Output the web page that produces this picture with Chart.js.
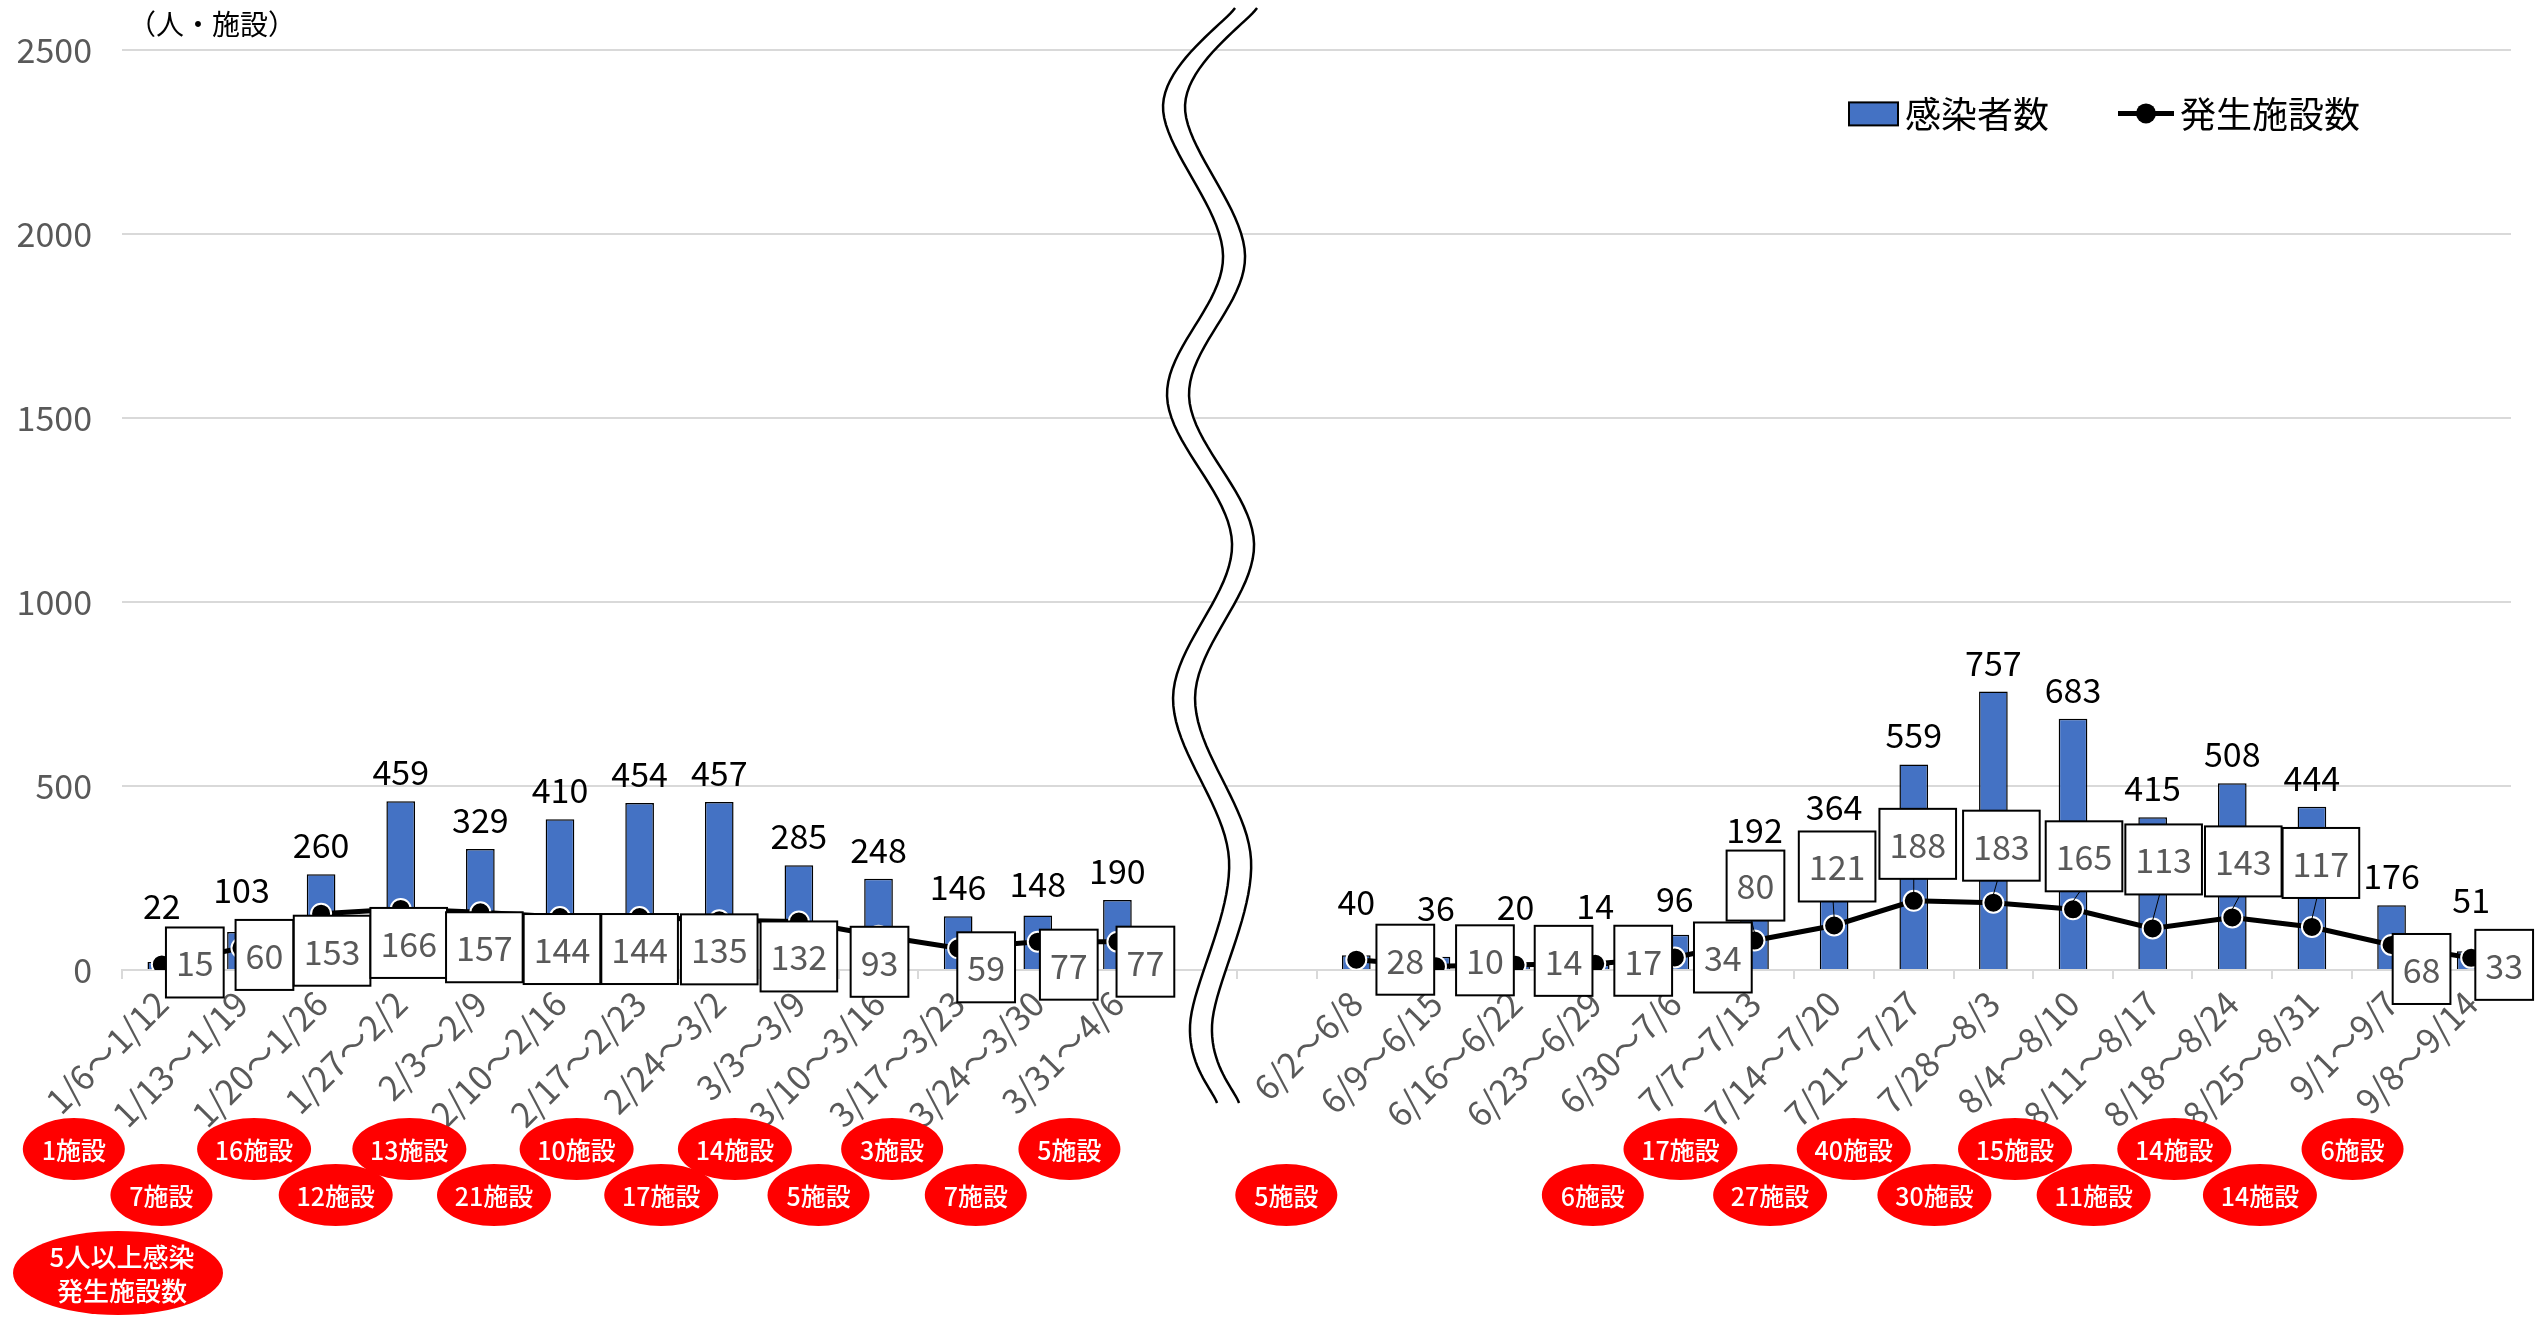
<!DOCTYPE html>
<html>
<head>
<meta charset="utf-8">
<script src="https://cdn.jsdelivr.net/npm/chart.js@4.4.1/dist/chart.umd.min.js"></script>
<style>
  html, body { margin: 0; padding: 0; background: #fff; }
  canvas { display: block; }
</style>
</head>
<body>
<canvas id="weeklyChart" width="2543" height="1318"></canvas>
<script>
// weekly categories (two blank slots where the axis is broken)
const weekLabels = [
  '1/6～1/12', '1/13～1/19', '1/20～1/26', '1/27～2/2', '2/3～2/9', '2/10～2/16',
  '2/17～2/23', '2/24～3/2', '3/3～3/9', '3/10～3/16', '3/17～3/23', '3/24～3/30', '3/31～4/6',
  '', '',
  '6/2～6/8', '6/9～6/15', '6/16～6/22', '6/23～6/29', '6/30～7/6', '7/7～7/13', '7/14～7/20',
  '7/21～7/27', '7/28～8/3', '8/4～8/10', '8/11～8/17', '8/18～8/24', '8/25～8/31', '9/1～9/7', '9/8～9/14'
];

// 感染者数
const infected = [22, 103, 260, 459, 329, 410, 454, 457, 285, 248, 146, 148, 190,
  null, null,
  40, 36, 20, 14, 96, 192, 364, 559, 757, 683, 415, 508, 444, 176, 51];

// 発生施設数
const facilities = [15, 60, 153, 166, 157, 144, 144, 135, 132, 93, 59, 77, 77,
  null, null,
  28, 10, 14, 17, 34, 80, 121, 188, 183, 165, 113, 143, 117, 68, 33];

// 5人以上感染発生施設数
const bigFacilities = [1, 7, 16, 12, 13, 21, 10, 17, 14, 5, 3, 7, 5,
  null, null,
  5, null, null, null, 6, 17, 27, 40, 30, 15, 11, 14, 14, 6, null];

const yMax = 2500;
const yStep = 500;

// where each boxed facility label sits, relative to its point
const boxDx = [33, 23, 11, 8, 4, 2, 0, 0, 0, 1, 28, 31, 28, 0, 0,
  49, 49, 48, 48, 48, 1, 3, 4, 8, 11, 11, 11, 9, 30, 33];
const boxDy = [-2, 7, 37, 34, 35, 32, 32, 29, 35, 26, 19, 23, 20, 0, 0,
  0, -6, -4, -3, 0, -55, -59, -57, -57, -53, -69, -56, -64, 24, 7];
// red bubbles under the axis, shifted left of the category
const bubbleDx = [-88, -80, -67, -65, -71, -66, -63, -58, -64, -60, -66, -62, -48, 0, 0,
  -70, 0, 0, 0, -82, -74, -64, -60, -59, -58, -59, -58, -52, -39, 0];

const FONT = "'Noto Sans CJK JP', 'Noto Sans', sans-serif";

// catmull-rom sampling for the wavy break mark
function sampleCurve(pts) {
  const out = [];
  for (let i = 0; i < pts.length - 1; i++) {
    const p0 = pts[i - 1] || pts[i], p1 = pts[i], p2 = pts[i + 1], p3 = pts[i + 2] || pts[i + 1];
    for (let t = 0; t < 1; t += 0.05) {
      const t2 = t * t, t3 = t2 * t;
      const f = (a, b, c, d) => 0.5 * ((2 * b) + (-a + c) * t + (2 * a - 5 * b + 4 * c - d) * t2 + (-a + 3 * b - 3 * c + d) * t3);
      out.push([f(p0[0], p1[0], p2[0], p3[0]), f(p0[1], p1[1], p2[1], p3[1])]);
    }
  }
  out.push(pts[pts.length - 1]);
  return out;
}

const overlay = {
  id: 'overlay',
  afterDatasetsDraw(chart) {
    const { ctx } = chart;
    const barMeta = chart.getDatasetMeta(0);
    const lineMeta = chart.getDatasetMeta(1);
    ctx.save();
    ctx.font = '34px ' + FONT;

    // boxed labels for the line
    const boxes = [];
    facilities.forEach((v, i) => {
      if (v == null) return;
      const p = lineMeta.data[i];
      const txt = String(v);
      const w = ctx.measureText(txt).width + 20;
      boxes[i] = { cx: p.x + boxDx[i], cy: p.y + boxDy[i], w: w, h: 70, txt: txt, px: p.x, py: p.y, above: boxDy[i] < -20 };
    });

    // bar value labels
    ctx.fillStyle = '#000';
    ctx.textAlign = 'center';
    ctx.textBaseline = 'alphabetic';
    infected.forEach((v, i) => {
      if (v == null) return;
      const bar = barMeta.data[i];
      let bottom = Math.min(bar.y - 16, lineMeta.data[i].y - 45);
      const b = boxes[i];
      if (b && b.above) bottom = Math.min(bottom, b.cy - b.h / 2 - 8);
      ctx.fillText(String(v), bar.x, bottom);
    });

    // leader lines + boxes
    boxes.forEach(b => {
      if (!b) return;
      const boxBottom = b.cy + b.h / 2;
      if (b.above && b.py - 10 - boxBottom > 5) {
        ctx.strokeStyle = '#000';
        ctx.lineWidth = 1;
        ctx.beginPath();
        ctx.moveTo(b.cx - 4, boxBottom);
        ctx.lineTo(b.px, b.py - 8);
        ctx.stroke();
      }
      ctx.fillStyle = '#fff';
      ctx.fillRect(b.cx - b.w / 2, b.cy - b.h / 2, b.w, b.h);
      ctx.strokeStyle = '#000';
      ctx.lineWidth = 2;
      ctx.strokeRect(b.cx - b.w / 2, b.cy - b.h / 2, b.w, b.h);
      ctx.fillStyle = '#595959';
      ctx.textBaseline = 'middle';
      ctx.fillText(b.txt, b.cx, b.cy + 1);
    });
    ctx.restore();
  },
  afterDraw(chart) {
    const { ctx, chartArea: ca, scales: { x } } = chart;
    ctx.save();

    // axis break
    const cx = x.getPixelForValue(13);
    const wave = [[38, 8], [-34, 105], [26, 256], [-30, 396], [35, 544], [-24, 698], [32, 860], [-7, 1025], [20, 1103]];
    const left = sampleCurve(wave.map(p => [cx + p[0], p[1]]));
    const right = sampleCurve(wave.map(p => [cx + p[0] + 22, p[1]]));
    ctx.fillStyle = '#fff';
    ctx.beginPath();
    left.forEach((p, i) => i ? ctx.lineTo(p[0], p[1]) : ctx.moveTo(p[0], p[1]));
    right.slice().reverse().forEach(p => ctx.lineTo(p[0], p[1]));
    ctx.closePath();
    ctx.fill();
    ctx.strokeStyle = '#000';
    ctx.lineWidth = 2.5;
    [left, right].forEach(line => {
      ctx.beginPath();
      line.forEach((p, i) => i ? ctx.lineTo(p[0], p[1]) : ctx.moveTo(p[0], p[1]));
      ctx.stroke();
    });

    // unit label
    ctx.fillStyle = '#000';
    ctx.font = '28px ' + FONT;
    ctx.textAlign = 'left';
    ctx.textBaseline = 'middle';
    ctx.fillText('（人・施設）', 128, 24);

    // legend
    const ly = ca.top + 63;
    ctx.fillStyle = '#4472C4';
    ctx.fillRect(1849, ly - 11, 49, 23);
    ctx.strokeStyle = '#000';
    ctx.lineWidth = 2;
    ctx.strokeRect(1849, ly - 11, 49, 23);
    ctx.font = '36px ' + FONT;
    ctx.fillStyle = '#000';
    ctx.fillText('感染者数', 1905, ly + 1);
    ctx.lineWidth = 5;
    ctx.beginPath();
    ctx.moveTo(2118, ly);
    ctx.lineTo(2174, ly);
    ctx.stroke();
    ctx.beginPath();
    ctx.arc(2146, ly, 10, 0, Math.PI * 2);
    ctx.fill();
    ctx.fillText('発生施設数', 2180, ly + 1);

    // red bubbles
    ctx.textAlign = 'center';
    bigFacilities.forEach((v, i) => {
      if (v == null) return;
      const txt = v + '施設';
      const bx = x.getPixelForValue(i) + bubbleDx[i];
      const by = ca.bottom + (i % 2 === 0 ? 179 : 225);
      const rx = v >= 10 ? 57 : 51;
      ctx.fillStyle = '#ff0000';
      ctx.beginPath();
      ctx.ellipse(bx, by, rx, 31, 0, 0, Math.PI * 2);
      ctx.fill();
      ctx.fillStyle = '#fff';
      ctx.font = '500 25px ' + FONT;
      ctx.fillText(txt, bx, by + 1);
    });
    // bubble key
    ctx.fillStyle = '#ff0000';
    ctx.beginPath();
    ctx.ellipse(118, 1273, 105, 42, 0, 0, Math.PI * 2);
    ctx.fill();
    ctx.fillStyle = '#fff';
    ctx.font = '500 26px ' + FONT;
    ctx.fillText('5人以上感染', 122, 1257);
    ctx.fillText('発生施設数', 122, 1291);
    ctx.restore();
  }
};

const canvas = document.getElementById('weeklyChart');
new Chart(canvas, {
  data: {
    labels: weekLabels,
    datasets: [
      {
        type: 'bar',
        label: '感染者数',
        data: infected,
        backgroundColor: '#4472C4',
        borderColor: '#000',
        borderWidth: 1.5,
        barPercentage: 0.36,
        categoryPercentage: 1,
        order: 2,
      },
      {
        type: 'line',
        label: '発生施設数',
        data: facilities,
        borderColor: '#000',
        borderWidth: 5,
        pointRadius: 10,
        pointBackgroundColor: '#000',
        pointBorderColor: '#fff',
        pointBorderWidth: 2,
        tension: 0,
        spanGaps: false,
        order: 1,
      },
    ],
  },
  options: {
    responsive: false,
    animation: false,
    devicePixelRatio: 1,
    layout: { padding: { top: 50, right: 32, left: 0, bottom: 0 } },
    plugins: {
      legend: { display: false },
      tooltip: { enabled: false },
    },
    scales: {
      x: {
        offset: true,
        grid: { offset: true, drawOnChartArea: false, color: '#d9d9d9', lineWidth: 2, tickLength: 9 },
        border: { color: '#d9d9d9', width: 2 },
        ticks: {
          autoSkip: false,
          maxRotation: 45,
          minRotation: 45,
          color: '#595959',
          padding: 4,
          font: { family: FONT, size: 34 },
        },
        afterFit(scale) { scale.height = 348; },
      },
      y: {
        min: 0,
        max: yMax,
        ticks: {
          stepSize: yStep,
          color: '#595959',
          padding: 30,
          font: { family: FONT, size: 34 },
          callback: v => String(v),
        },
        grid: { color: '#d9d9d9', lineWidth: 2, drawTicks: false },
        border: { display: false },
        afterFit(scale) { scale.width = 122; },
      },
    },
  },
  plugins: [overlay],
});
</script>
</body>
</html>
